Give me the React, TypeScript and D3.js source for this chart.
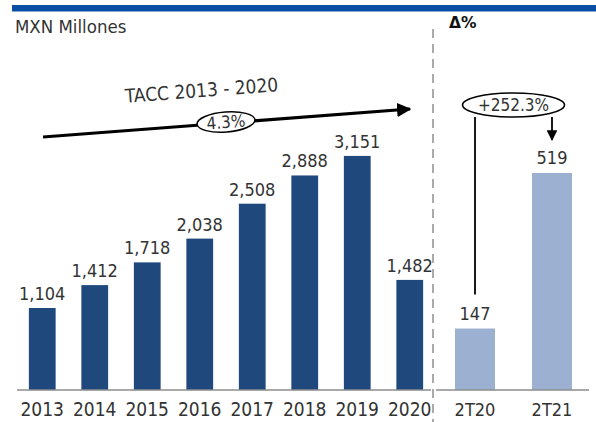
import * as d3 from "d3";

const years = ["2013", "2014", "2015", "2016", "2017", "2018", "2019", "2020"];
const yearValues = [1104, 1412, 1718, 2038, 2508, 2888, 3151, 1482];
const quarters = ["2T20", "2T21"];
const quarterValues = [147, 519];
const unitLabel = "MXN Millones";
const deltaTitle = "Δ%";
const taccTitle = "TACC 2013 - 2020";
const taccValue = "4.3%";
const deltaValue = "+252.3%";

const W = 596;
const H = 422;
const baseY = 390;
const divX = 433;
const font = "'DejaVu Sans Condensed', 'DejaVu Sans', sans-serif";
const ink = "#333";
const fmt = d3.format(",");

export default function App() {
  const xL = d3.scaleBand<string>().domain(years).range([16, 436]).paddingInner(0.49).paddingOuter(0.245);
  const yL = d3.scaleLinear().domain([0, 3500]).range([baseY, 130]);
  const xR = d3.scaleBand<string>().domain(quarters).range([436.5, 590.5]).paddingInner(0.48).paddingOuter(0.24);
  const yR = d3.scaleLinear().domain([0, 600]).range([baseY, baseY - 250.9]);

  const cx0 = xR(quarters[0])! + xR.bandwidth() / 2;
  const cx1 = xR(quarters[1])! + xR.bandwidth() / 2;
  const ex = (cx0 + cx1) / 2;
  const ey = 105;

  // TACC arrow
  const a0 = [43, 137];
  const a1 = [410, 109];
  const ang = (Math.atan2(a1[1] - a0[1], a1[0] - a0[0]) * 180) / Math.PI;

  return (
    <svg width={W} height={H} style={{ position: "absolute", left: 0, top: 0 }}>
      <defs>
        <marker id="ah" viewBox="0 0 10 10" refX="9" refY="5" markerWidth="4.5" markerHeight="4.5" orient="auto">
          <path d="M0,0 L10,5 L0,10 z" fill="#000" />
        </marker>
        <marker id="ah2" viewBox="0 0 10 10" refX="9" refY="5" markerWidth="6.5" markerHeight="6" orient="auto">
          <path d="M0,0 L10,5 L0,10 z" fill="#000" />
        </marker>
      </defs>
      <rect x={12} y={5} width={W - 12} height={6.5} fill="#0a4fa3" />
      <text x={15} y={33} fontFamily={font} fontSize={18.5} fill={ink}>{unitLabel}</text>
      <text x={449} y={28} fontFamily="'DejaVu Sans', sans-serif" fontWeight="bold" fontSize={15.5} fill="#111">{deltaTitle}</text>

      <line x1={divX} x2={divX} y1={29} y2={H} stroke="#aaa" strokeWidth={2} strokeDasharray="9,6" />

      {years.map((y, i) => (
        <g key={y}>
          <rect x={xL(y)} y={yL(yearValues[i])} width={xL.bandwidth()} height={baseY - yL(yearValues[i])} fill="#1f497d" />
          <text x={xL(y)! + xL.bandwidth() / 2} y={yL(yearValues[i]) - 8} textAnchor="middle" fontFamily={font} fontSize={18} fill={ink}>
            {fmt(yearValues[i])}
          </text>
          <text x={xL(y)! + xL.bandwidth() / 2} y={416} textAnchor="middle" fontFamily={font} fontSize={19} fill={ink}>{y}</text>
        </g>
      ))}
      <line x1={17} x2={431} y1={baseY} y2={baseY} stroke="#8c8c8c" strokeWidth={1.5} />

      {quarters.map((q, i) => (
        <g key={q}>
          <rect x={xR(q)} y={yR(quarterValues[i])} width={xR.bandwidth()} height={baseY - yR(quarterValues[i])} fill="#9cb1d1" />
          <text x={xR(q)! + xR.bandwidth() / 2} y={yR(quarterValues[i]) - 9} textAnchor="middle" fontFamily={font} fontSize={18} fill={ink}>
            {quarterValues[i]}
          </text>
          <text x={xR(q)! + xR.bandwidth() / 2} y={416} textAnchor="middle" fontFamily={font} fontSize={18} fill={ink}>{q}</text>
        </g>
      ))}
      <line x1={436} x2={589} y1={baseY} y2={baseY} stroke="#8c8c8c" strokeWidth={1.5} />

      {/* TACC arrow */}
      <line x1={a0[0]} y1={a0[1]} x2={a1[0]} y2={a1[1]} stroke="#000" strokeWidth={3.2} markerEnd="url(#ah)" />
      <text x={202} y={97} textAnchor="middle" fontFamily={font} fontSize={19} fill={ink} transform={`rotate(${ang},202,97)`}>
        {taccTitle}
      </text>
      <ellipse cx={226} cy={122} rx={29} ry={10} fill="#fff" stroke="#000" strokeWidth={1.5} transform={`rotate(${ang},226,122)`} />
      <text x={226} y={128} textAnchor="middle" fontFamily={font} fontSize={17} fill={ink} transform={`rotate(${ang},226,122)`}>
        {taccValue}
      </text>

      {/* delta connector */}
      <line x1={cx0} x2={cx0} y1={ey + 12} y2={yR(quarterValues[0]) - 34} stroke="#000" strokeWidth={1.8} />
      <line x1={cx1} x2={cx1} y1={ey + 12} y2={yR(quarterValues[1]) - 33} stroke="#000" strokeWidth={1.8} markerEnd="url(#ah2)" />
      <ellipse cx={ex} cy={ey} rx={51} ry={12} fill="#fff" stroke="#000" strokeWidth={1.5} />
      <text x={ex} y={ey + 6} textAnchor="middle" fontFamily={font} fontSize={17} fill={ink}>{deltaValue}</text>
    </svg>
  );
}
